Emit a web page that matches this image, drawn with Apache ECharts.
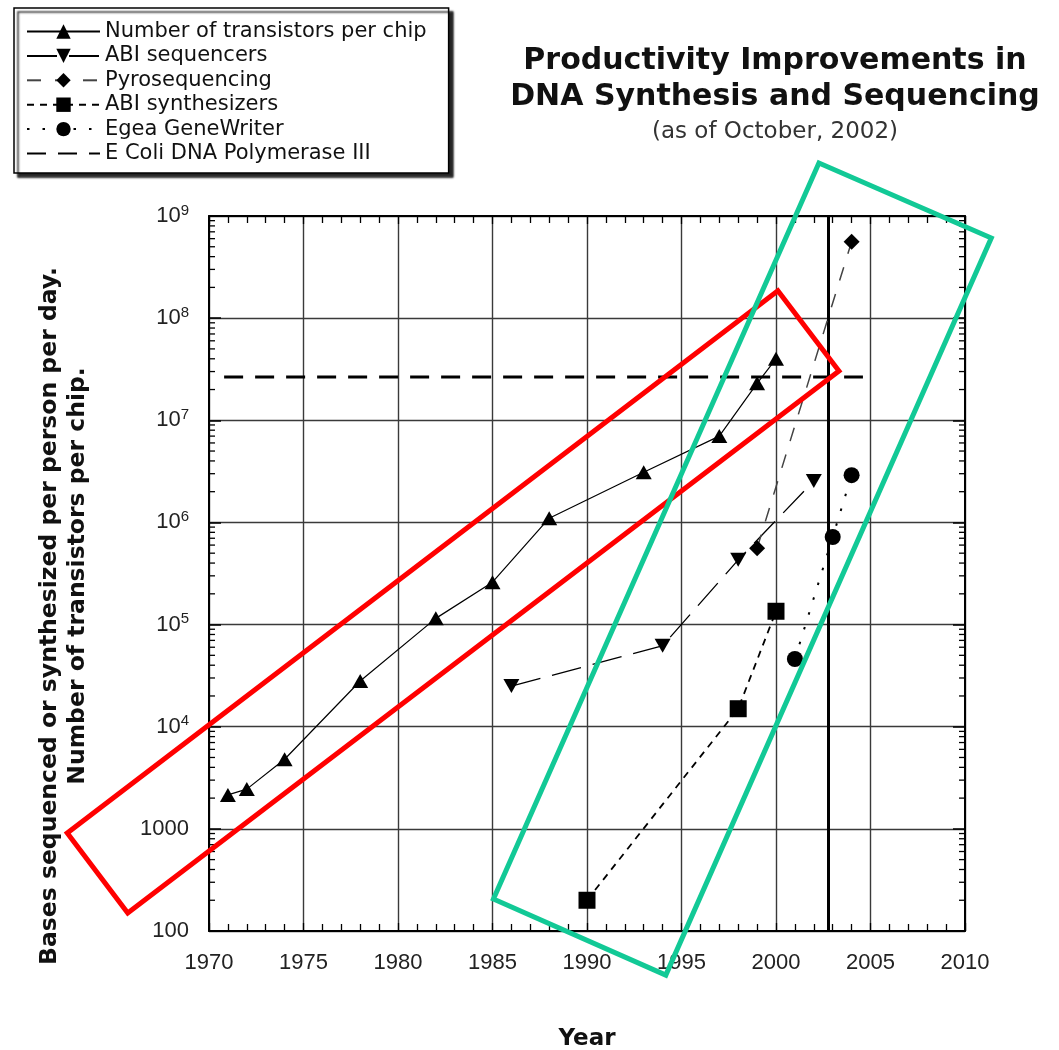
<!DOCTYPE html>
<html>
<head>
<meta charset="utf-8">
<title>Productivity Improvements in DNA Synthesis and Sequencing</title>
<script src="https://cdn.jsdelivr.net/npm/echarts@6/dist/echarts.min.js"></script>
<style>
  html, body { margin: 0; padding: 0; background: #ffffff; }
  #chart { width: 1059px; height: 1050px; }
</style>
</head>
<body>
<div id="chart"></div>
<script>
// ---- Data -------------------------------------------------------------
// Number of transistors per chip
const transistorYears  = [1971, 1972, 1974, 1978, 1982, 1985, 1988, 1993, 1997, 1999, 2000];
const transistorCounts = [2150, 2450, 4800, 28000, 115000, 260000, 1100000, 3100000, 7000000, 23000000, 40000000];

// ABI sequencers (bases sequenced per person per day)
const sequencerYears = [1986, 1994, 1998, 2002];
const sequencerRates = [25000, 62000, 430000, 2550000];

// Pyrosequencing
const pyroYears = [1999, 2004];
const pyroRates = [560000, 560000000];

// ABI synthesizers (bases synthesized per person per day)
const synthYears = [1990, 1998, 2000];
const synthRates = [200, 15000, 135000];

// Egea GeneWriter
const egeaYears = [2001, 2003, 2004];
const egeaRates = [46000, 720000, 2900000];

// E. coli DNA Polymerase III reference rate
const ecoliYears = [1970.8, 2004.6];
const ecoliRate = 26500000;

// "As of" date marker (October 2002)
const asOfYear = 2002.75;

// Axis ranges
const yearMin = 1970, yearMax = 2010, yearStep = 5;
const valueMin = 100, valueMax = 1e9;

// Minor log ticks: 2..9 within every decade
const logDecades = [1e2, 1e3, 1e4, 1e5, 1e6, 1e7, 1e8];
const logMinorSteps = [2, 3, 4, 5, 6, 7, 8, 9];

// Highlight boxes, corners given as [year, value]
const transistorTrendBox = [[1962.5, 910], [1965.7, 150], [2003.33, 3.03e7], [2000.1, 1.85e8]];
const sequencingTrendBox = [[2002.27, 3.3e9], [2011.39, 6.1e8], [1994.17, 37], [1985.05, 206]];

// ---- Helpers ----------------------------------------------------------
const pairs = (xs, ys) => xs.map((x, i) => [x, ys[i]]);
const minorTickValues = [];
logDecades.forEach(d => logMinorSteps.forEach(m => minorTickValues.push(d * m)));

const tickFont = "'Liberation Sans', Arial, sans-serif";
const textFont = "'DejaVu Sans', Verdana, sans-serif";

const names = [
  'Number of transistors per chip',
  'ABI sequencers',
  'Pyrosequencing',
  'ABI synthesizers',
  'Egea GeneWriter',
  'E Coli DNA Polymerase III'
];

const chart = echarts.init(document.getElementById('chart'), null, { renderer: 'canvas' });

const frameAxisX = (pos) => ({
  type: 'value',
  position: pos,
  min: yearMin, max: yearMax, interval: yearStep,
  axisLine: { show: true, onZero: false, lineStyle: { color: '#000', width: 2 } },
  axisTick: { show: true, inside: true, length: 8, lineStyle: { color: '#000', width: 1.3 } },
  minorTick: { show: true, splitNumber: 5, length: 7, lineStyle: { color: '#000', width: 1.3 } },
  splitLine: { show: false }
});

const frameAxisY = (pos) => ({
  type: 'log',
  logBase: 10,
  position: pos,
  min: valueMin, max: valueMax,
  splitNumber: 7,
  axisLine: { show: true, onZero: false, lineStyle: { color: '#000', width: 2 } },
  axisTick: { show: true, inside: true, length: 12, lineStyle: { color: '#000', width: 1.5 } },
  splitLine: { show: false }
});

const xBottom = frameAxisX('bottom');
Object.assign(xBottom, {
  name: 'Year',
  nameLocation: 'middle',
  nameGap: 97,
  nameTextStyle: { fontFamily: textFont, fontWeight: 'bold', fontSize: 23, color: '#111' },
  axisLabel: {
    show: true, margin: 21, fontFamily: tickFont, fontSize: 22, color: '#222',
    formatter: (v) => String(Math.round(v))
  },
  splitLine: { show: true, lineStyle: { color: '#3a3a3a', width: 1.4 } }
});
const xTop = frameAxisX('top');
xTop.axisLabel = { show: false };

const yLeft = frameAxisY('left');
Object.assign(yLeft, {
  axisLabel: {
    show: true,
    margin: 20,
    fontFamily: tickFont,
    fontSize: 22,
    color: '#222',
    formatter: (v) => {
      const e = Math.round(Math.log10(v));
      return e >= 4 ? '{b|10}{s|' + e + '}' : String(Math.round(v));
    },
    rich: {
      b: { fontFamily: tickFont, fontSize: 22, color: '#222', lineHeight: 26 },
      s: { fontFamily: tickFont, fontSize: 15, color: '#222', verticalAlign: 'top', lineHeight: 14 }
    }
  },
  splitLine: { show: true, lineStyle: { color: '#3a3a3a', width: 1.4 } }
});
const yRight = frameAxisY('right');
yRight.axisLabel = { show: false };

const option = {
  backgroundColor: '#ffffff',
  animation: false,
  title: {
    text: 'Productivity Improvements in\nDNA Synthesis and Sequencing',
    subtext: '(as of October, 2002)',
    left: 770,
    top: 38,
    textAlign: 'center',
    itemGap: 4,
    textStyle: { fontFamily: textFont, fontWeight: 'bold', fontSize: 30, lineHeight: 36, color: '#111' },
    subtextStyle: { fontFamily: textFont, fontSize: 23, lineHeight: 26, color: '#333' }
  },
  legend: {
    orient: 'vertical',
    left: 14,
    top: 8,
    data: names.map((n, i) => (i === 5 ? { name: n, itemStyle: { opacity: 0 } } : { name: n })),
    itemWidth: 73,
    itemHeight: 18,
    itemGap: 3.4,
    padding: [13, 22, 9, 12],
    backgroundColor: '#ffffff',
    borderColor: '#000',
    borderWidth: 1.5,
    borderRadius: 0,
    shadowColor: 'rgba(0,0,0,0.85)',
    shadowBlur: 2,
    shadowOffsetX: 4,
    shadowOffsetY: 4,
    selectedMode: false,
    textStyle: { fontFamily: textFont, fontSize: 21, color: '#111' }
  },
  grid: { left: 209, right: 94, top: 216, bottom: 119, containLabel: false, outerBoundsMode: 'none' },
  xAxis: [xBottom, xTop],
  yAxis: [yLeft, yRight],
  graphic: [
    {
      id: 'ytitle1', type: 'text', x: 50, y: 616, rotation: Math.PI / 2, z: 50,
      style: {
        text: 'Bases sequenced or synthesized per person per day.',
        fontFamily: textFont, fontWeight: 'bold', fontSize: 23.5, fill: '#111',
        align: 'center', verticalAlign: 'middle'
      }
    },
    {
      id: 'ytitle2', type: 'text', x: 78, y: 576, rotation: Math.PI / 2, z: 50,
      style: {
        text: 'Number of transistors per chip.',
        fontFamily: textFont, fontWeight: 'bold', fontSize: 23.5, fill: '#111',
        align: 'center', verticalAlign: 'middle'
      }
    }
  ],
  series: [
    {
      name: names[0], type: 'line', z: 4,
      data: pairs(transistorYears, transistorCounts),
      symbol: 'triangle', symbolSize: [16, 14],
      itemStyle: { color: '#000' },
      lineStyle: { color: '#000', width: 1.2, type: 'solid' },
      markLine: {
        silent: true, symbol: 'none', z: 3,
        label: { show: false },
        lineStyle: { color: '#000', width: 3, type: 'solid' },
        data: [{ xAxis: asOfYear }]
      }
    },
    {
      name: names[1], type: 'line', z: 4,
      data: pairs(sequencerYears, sequencerRates),
      symbol: 'triangle', symbolRotate: 180, symbolSize: [16, 14],
      itemStyle: { color: '#000' },
      lineStyle: { color: '#000', width: 1.3, type: [30, 12] }
    },
    {
      name: names[2], type: 'line', z: 4,
      data: pairs(pyroYears, pyroRates),
      symbol: 'diamond', symbolSize: 16,
      itemStyle: { color: '#000' },
      lineStyle: { color: '#444', width: 1.5, type: [14, 14] }
    },
    {
      name: names[3], type: 'line', z: 4,
      data: pairs(synthYears, synthRates),
      symbol: 'rect', symbolSize: 17,
      itemStyle: { color: '#000' },
      lineStyle: { color: '#000', width: 1.8, type: [7, 6] }
    },
    {
      name: names[4], type: 'line', z: 4,
      data: pairs(egeaYears, egeaRates),
      symbol: 'circle', symbolSize: 16,
      itemStyle: { color: '#000' },
      lineStyle: { color: '#000', width: 2, type: [2.5, 13] }
    },
    {
      name: names[5], type: 'line', z: 4,
      data: ecoliYears.map(y => [y, ecoliRate]),
      symbol: 'none',
      itemStyle: { color: '#000' },
      lineStyle: { color: '#000', width: 3, type: [19, 12] }
    },
    {
      // minor log ticks on the left and right frame edges
      type: 'custom', silent: true, z: 6,
      data: minorTickValues.map(v => [yearMin, v]),
      renderItem: (params, api) => {
        const v = api.value(1);
        const l = api.coord([yearMin, v]);
        const r = api.coord([yearMax, v]);
        const st = { stroke: '#000', lineWidth: 1.3 };
        return {
          type: 'group',
          children: [
            { type: 'line', shape: { x1: l[0], y1: l[1], x2: l[0] + 6, y2: l[1] }, style: st },
            { type: 'line', shape: { x1: r[0] - 6, y1: r[1], x2: r[0], y2: r[1] }, style: st }
          ]
        };
      }
    }
  ]
};

chart.setOption(option);

// Highlight boxes placed through the grid's own coordinate system
const toPx = (pts) => pts.map(p => chart.convertToPixel({ gridIndex: 0 }, p));
chart.setOption({
  graphic: [
    {
      id: 'box-transistors', type: 'polygon', z: 100, silent: true,
      shape: { points: toPx(transistorTrendBox) },
      style: { fill: null, stroke: '#ff0000', lineWidth: 5, lineJoin: 'miter' }
    },
    {
      id: 'box-sequencing', type: 'polygon', z: 100, silent: true,
      shape: { points: toPx(sequencingTrendBox) },
      style: { fill: null, stroke: '#12c996', lineWidth: 5, lineJoin: 'miter' }
    }
  ]
});
</script>
</body>
</html>
